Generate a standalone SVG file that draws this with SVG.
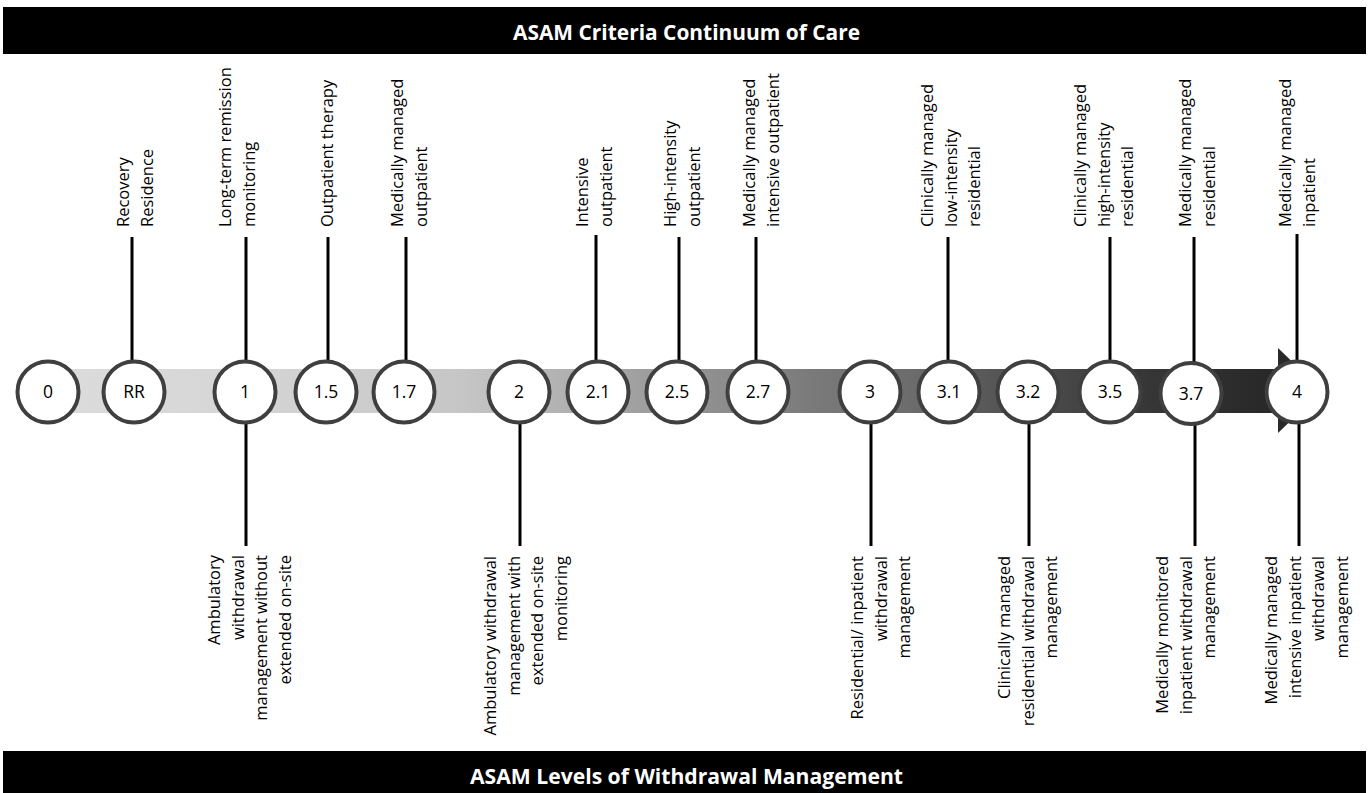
<svg xmlns="http://www.w3.org/2000/svg" width="1369" height="793" viewBox="0 0 1369 793">
<style>
.bar{fill:#000}
.title{font-family:"Open Sans","Liberation Sans",sans-serif;font-weight:bold;font-size:20.8px;fill:#fff;text-anchor:middle}
.num{font-family:"Open Sans","Liberation Sans",sans-serif;font-size:17.5px;fill:#000;text-anchor:middle}
.lbl{font-family:"Open Sans","Liberation Sans",sans-serif;font-size:16.5px;fill:#000}
.top{text-anchor:start}
.bot{text-anchor:end}
.node circle{fill:#fff;stroke:#3f3f3f;stroke-width:4}
.conn line{stroke:#000;stroke-width:3}
</style>
<defs>
<linearGradient id="band" gradientUnits="userSpaceOnUse" x1="48" y1="0" x2="1300" y2="0">
<stop offset="0" stop-color="#dcdcdc"/>
<stop offset="0.15" stop-color="#d6d6d6"/>
<stop offset="0.33" stop-color="#c6c6c6"/>
<stop offset="0.41" stop-color="#b2b2b2"/>
<stop offset="0.47" stop-color="#a0a0a0"/>
<stop offset="0.535" stop-color="#8e8e8e"/>
<stop offset="0.61" stop-color="#7a7a7a"/>
<stop offset="0.69" stop-color="#6c6c6c"/>
<stop offset="0.75" stop-color="#585858"/>
<stop offset="0.815" stop-color="#464646"/>
<stop offset="0.88" stop-color="#363636"/>
<stop offset="0.96" stop-color="#2a2a2a"/>
<stop offset="1" stop-color="#262626"/>
</linearGradient>
</defs>
<rect width="1369" height="793" fill="#fff"/>
<g id="header">
<rect class="bar" x="3" y="7" width="1363" height="47"/>
<text class="title" x="686.5" y="40" textLength="347" lengthAdjust="spacingAndGlyphs">ASAM Criteria Continuum of Care</text>
</g>
<g id="footer">
<rect class="bar" x="3" y="751" width="1363" height="50"/>
<text class="title" x="686.5" y="784" textLength="433" lengthAdjust="spacingAndGlyphs">ASAM Levels of Withdrawal Management</text>
</g>
<g id="band-arrow">
<rect x="48" y="369" width="1232" height="44" fill="url(#band)"/>
<polygon points="1278,348 1278,433 1322,390.5" fill="#2a2a2a"/>
</g>
<g id="connectors" class="conn">
<line x1="132" y1="237" x2="132" y2="362"/>
<line x1="246" y1="237" x2="246" y2="362"/>
<line x1="328" y1="237" x2="328" y2="362"/>
<line x1="406" y1="237" x2="406" y2="362"/>
<line x1="596" y1="235" x2="596" y2="362"/>
<line x1="679" y1="237" x2="679" y2="362"/>
<line x1="756" y1="237" x2="756" y2="362"/>
<line x1="948" y1="237" x2="948" y2="362"/>
<line x1="1110" y1="237" x2="1110" y2="362"/>
<line x1="1194" y1="237" x2="1194" y2="362"/>
<line x1="1297" y1="234" x2="1297" y2="362"/>
<line x1="246" y1="422" x2="246" y2="546"/>
<line x1="520" y1="422" x2="520" y2="546"/>
<line x1="871" y1="422" x2="871" y2="546"/>
<line x1="1029" y1="422" x2="1029" y2="546"/>
<line x1="1195" y1="424" x2="1195" y2="546"/>
<line x1="1299" y1="422" x2="1299" y2="546"/>
</g>
<g id="n0" class="node"><circle cx="48" cy="392" r="30.5"/><text class="num" x="48" y="398">0</text></g>
<g id="nRR" class="node"><circle cx="134" cy="392" r="30.5"/><text class="num" x="134" y="398">RR</text>
<text class="lbl top" transform="translate(0,227) rotate(-90)"><tspan x="0" y="129">Recovery</tspan><tspan x="0" y="152.5">Residence</tspan></text></g>
<g id="n1" class="node"><circle cx="245" cy="392" r="30.5"/><text class="num" x="245" y="398">1</text>
<text class="lbl top" transform="translate(0,227) rotate(-90)"><tspan x="0" y="231">Long-term remission</tspan><tspan x="0" y="254.5">monitoring</tspan></text>
<text class="lbl bot" transform="translate(0,555) rotate(-90)"><tspan x="0" y="220">Ambulatory</tspan><tspan x="0" y="243.5">withdrawal</tspan><tspan x="0" y="267">management without</tspan><tspan x="0" y="290.5">extended on-site</tspan></text></g>
<g id="n1_5" class="node"><circle cx="326" cy="392" r="30.5"/><text class="num" x="326" y="398">1.5</text>
<text class="lbl top" transform="translate(0,227) rotate(-90)"><tspan x="0" y="333">Outpatient therapy</tspan></text></g>
<g id="n1_7" class="node"><circle cx="404" cy="392" r="30.5"/><text class="num" x="404" y="398">1.7</text>
<text class="lbl top" transform="translate(0,227) rotate(-90)"><tspan x="0" y="403">Medically managed</tspan><tspan x="0" y="426.5">outpatient</tspan></text></g>
<g id="n2" class="node"><circle cx="519" cy="392" r="30.5"/><text class="num" x="519" y="398">2</text>
<text class="lbl bot" transform="translate(0,556) rotate(-90)"><tspan x="0" y="496">Ambulatory withdrawal</tspan><tspan x="0" y="519.5">management with</tspan><tspan x="0" y="543">extended on-site</tspan><tspan x="0" y="566.5">monitoring</tspan></text></g>
<g id="n2_1" class="node"><circle cx="598" cy="392" r="30.5"/><text class="num" x="598" y="398">2.1</text>
<text class="lbl top" transform="translate(0,227) rotate(-90)"><tspan x="0" y="588">Intensive</tspan><tspan x="0" y="611.5">outpatient</tspan></text></g>
<g id="n2_5" class="node"><circle cx="677" cy="392" r="30.5"/><text class="num" x="677" y="398">2.5</text>
<text class="lbl top" transform="translate(0,227) rotate(-90)"><tspan x="0" y="676">High-intensity</tspan><tspan x="0" y="699.5">outpatient</tspan></text></g>
<g id="n2_7" class="node"><circle cx="758" cy="392" r="30.5"/><text class="num" x="758" y="398">2.7</text>
<text class="lbl top" transform="translate(0,227) rotate(-90)"><tspan x="0" y="755">Medically managed</tspan><tspan x="0" y="778.5">intensive outpatient</tspan></text></g>
<g id="n3" class="node"><circle cx="870" cy="392" r="30.5"/><text class="num" x="870" y="398">3</text>
<text class="lbl bot" transform="translate(0,556) rotate(-90)"><tspan x="0" y="863">Residential/ inpatient</tspan><tspan x="0" y="886.5">withdrawal</tspan><tspan x="0" y="910">management</tspan></text></g>
<g id="n3_1" class="node"><circle cx="949" cy="392" r="30.5"/><text class="num" x="949" y="398">3.1</text>
<text class="lbl top" transform="translate(0,227) rotate(-90)"><tspan x="0" y="933">Clinically managed</tspan><tspan x="0" y="956.5">low-intensity</tspan><tspan x="0" y="980">residential</tspan></text></g>
<g id="n3_2" class="node"><circle cx="1028" cy="392" r="30.5"/><text class="num" x="1028" y="398">3.2</text>
<text class="lbl bot" transform="translate(0,556) rotate(-90)"><tspan x="0" y="1010">Clinically managed</tspan><tspan x="0" y="1033.5">residential withdrawal</tspan><tspan x="0" y="1057">management</tspan></text></g>
<g id="n3_5" class="node"><circle cx="1110" cy="392" r="30.5"/><text class="num" x="1110" y="398">3.5</text>
<text class="lbl top" transform="translate(0,227) rotate(-90)"><tspan x="0" y="1086">Clinically managed</tspan><tspan x="0" y="1109.5">high-intensity</tspan><tspan x="0" y="1133">residential</tspan></text></g>
<g id="n3_7" class="node"><circle cx="1191" cy="393.5" r="30.5"/><text class="num" x="1191" y="399.5">3.7</text>
<text class="lbl top" transform="translate(0,227) rotate(-90)"><tspan x="0" y="1191">Medically managed</tspan><tspan x="0" y="1214.5">residential</tspan></text>
<text class="lbl bot" transform="translate(0,556) rotate(-90)"><tspan x="0" y="1168">Medically monitored</tspan><tspan x="0" y="1191.5">inpatient withdrawal</tspan><tspan x="0" y="1215">management</tspan></text></g>
<g id="n4" class="node"><circle cx="1297" cy="392" r="30.5"/><text class="num" x="1297" y="398">4</text>
<text class="lbl top" transform="translate(0,227) rotate(-90)"><tspan x="0" y="1291">Medically managed</tspan><tspan x="0" y="1314.5">inpatient</tspan></text>
<text class="lbl bot" transform="translate(0,556) rotate(-90)"><tspan x="0" y="1277">Medically managed</tspan><tspan x="0" y="1300.5">intensive inpatient</tspan><tspan x="0" y="1324">withdrawal</tspan><tspan x="0" y="1347.5">management</tspan></text></g>
</svg>
